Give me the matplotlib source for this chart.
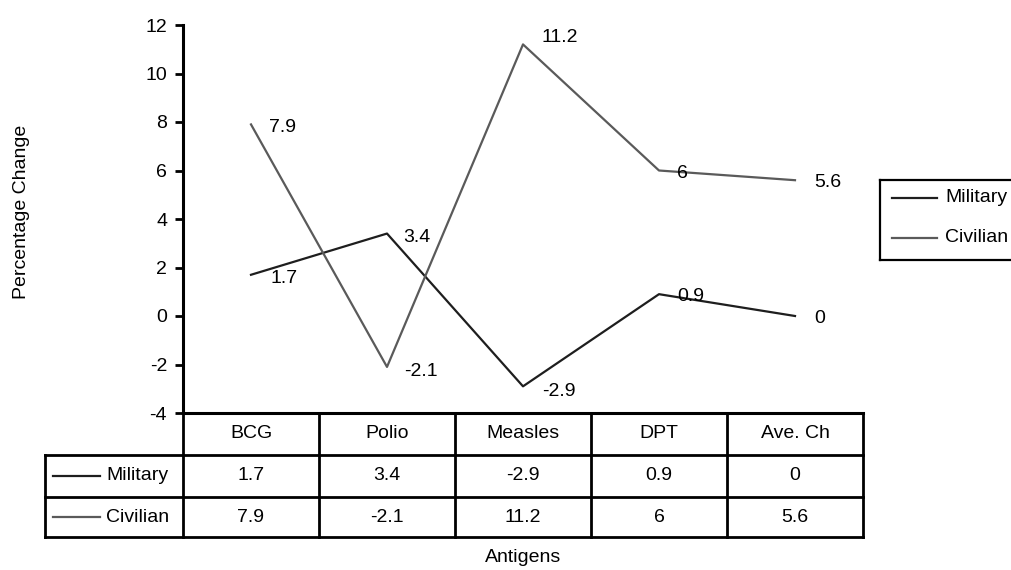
import matplotlib.pyplot as plt
from matplotlib.lines import Line2D

plt.rcParams['font.family'] = ['Liberation Sans', 'DejaVu Sans']
plt.rcParams['axes.unicode_minus'] = False

# data
antigens = ["BCG", "Polio", "Measles", "DPT", "Ave. Ch"]
military = [1.7, 3.4, -2.9, 0.9, 0]
civilian = [7.9, -2.1, 11.2, 6, 5.6]
series_names = ["Military", "Civilian"]
series_colors = ["#1e1e1e", "#5a5a5a"]

FS = 14
W, H = 1011, 570
fig = plt.figure(figsize=(W / 100, H / 100), dpi=100)


def fx(px):
    return px / W


def fy(py):
    return 1 - py / H


ax_left, ax_right, ax_top, ax_bottom = 183, 863, 25, 413
ax = fig.add_axes([fx(ax_left), fy(ax_bottom), fx(ax_right - ax_left),
                   (ax_bottom - ax_top) / H])

x = list(range(len(antigens)))
ax.plot(x, military, color=series_colors[0], lw=1.6)
ax.plot(x, civilian, color=series_colors[1], lw=1.6)

ax.set_xlim(-0.5, len(antigens) - 0.5)
ax.set_ylim(-4, 12)
ax.set_yticks(range(-4, 13, 2))
ax.set_xticks([])
ax.spines[['top', 'right']].set_visible(False)
ax.spines['left'].set_linewidth(2.2)
ax.spines['bottom'].set_linewidth(2.2)
ax.tick_params(axis='y', direction='out', length=5.5, width=2, labelsize=FS, pad=6)
ax.patch.set_alpha(0)

# data labels, set just right of each point
mil_offsets = [(14, -3), (12, -3), (14, -4), (13, -2), (14, -2)]
civ_offsets = [(13, -2), (12, -3), (13, 5), (13, -2), (14, -2)]
for xi, v, off in zip(x, military, mil_offsets):
    ax.annotate(f"{v:g}", (xi, v), xytext=off, textcoords='offset points',
                fontsize=FS, va='center', ha='left')
for xi, v, off in zip(x, civilian, civ_offsets):
    ax.annotate(f"{v:g}", (xi, v), xytext=off, textcoords='offset points',
                fontsize=FS, va='center', ha='left')

fig.text(fx(22), fy(212), "Percentage Change", rotation=90, ha='center', va='center',
         fontsize=FS)

# data table below the axis
col_w = (ax_right - ax_left) / len(antigens)
row_y = [413, 455, 497, 537]
tbl_left = 45
lw_tbl = 2.0


def hline(x0, x1, y):
    fig.add_artist(Line2D([fx(x0), fx(x1)], [fy(y), fy(y)], color='black', lw=lw_tbl))


def vline(xp, y0, y1):
    fig.add_artist(Line2D([fx(xp), fx(xp)], [fy(y0), fy(y1)], color='black', lw=lw_tbl))


hline(tbl_left, ax_right, row_y[1])
hline(tbl_left, ax_right, row_y[2])
hline(tbl_left, ax_right, row_y[3])
vline(tbl_left, row_y[1], row_y[3])
for i in range(len(antigens) + 1):
    vline(ax_left + i * col_w, row_y[0], row_y[3])

for i, name in enumerate(antigens):
    cx = ax_left + (i + 0.5) * col_w
    fig.text(fx(cx), fy((row_y[0] + row_y[1]) / 2), name, ha='center', va='center',
             fontsize=FS)
    for r, vals in enumerate([military, civilian]):
        fig.text(fx(cx), fy((row_y[r + 1] + row_y[r + 2]) / 2), f"{vals[i]:g}",
                 ha='center', va='center', fontsize=FS)

for r, (name, col) in enumerate(zip(series_names, series_colors)):
    yc = (row_y[r + 1] + row_y[r + 2]) / 2
    fig.add_artist(Line2D([fx(53), fx(100)], [fy(yc), fy(yc)], color=col, lw=1.6))
    fig.text(fx(106), fy(yc), name, ha='left', va='center', fontsize=FS)

fig.text(fx(ax_left + (ax_right - ax_left) / 2), fy(558), "Antigens",
         ha='center', va='center', fontsize=FS)

# legend box on the right (runs off the edge)
lg_x0, lg_x1, lg_y0, lg_y1 = 880, 1030, 180, 260
for (a, b) in [((lg_x0, lg_y0), (lg_x1, lg_y0)), ((lg_x0, lg_y1), (lg_x1, lg_y1)),
               ((lg_x0, lg_y0), (lg_x0, lg_y1))]:
    fig.add_artist(Line2D([fx(a[0]), fx(b[0])], [fy(a[1]), fy(b[1])],
                          color='black', lw=1.6))
for r, (name, col) in enumerate(zip(series_names, series_colors)):
    yc = 198 + r * 40
    fig.add_artist(Line2D([fx(892), fx(937)], [fy(yc), fy(yc)], color=col, lw=1.6))
    fig.text(fx(945), fy(yc), name, ha='left', va='center', fontsize=FS)

fig.savefig("out.png", dpi=100)
